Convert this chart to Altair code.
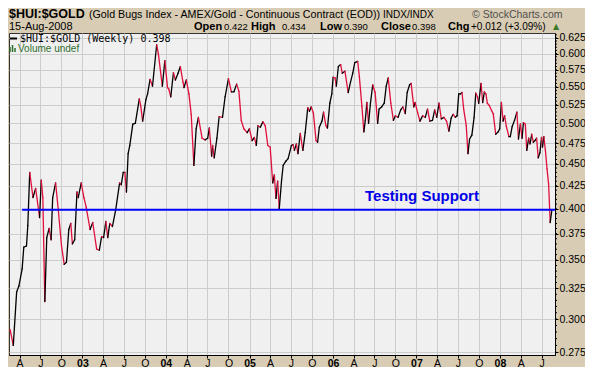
import altair as alt
import pandas as pd
import numpy as np

# ---- data (decimal year, weekly ratio) ----
t_year = [
    2002.133, 2002.172, 2002.212, 2002.239, 2002.278, 2002.298, 2002.330, 2002.346, 2002.369, 2002.408,
    2002.440, 2002.487, 2002.507, 2002.526, 2002.550, 2002.573, 2002.601, 2002.625, 2002.644, 2002.679,
    2002.711, 2002.750, 2002.782, 2002.809, 2002.837, 2002.861, 2002.880, 2002.908, 2002.935, 2002.950,
    2002.986, 2003.018, 2003.045, 2003.092, 2003.124, 2003.171, 2003.203, 2003.230, 2003.254, 2003.281,
    2003.304, 2003.328, 2003.360, 2003.399, 2003.446, 2003.466, 2003.489, 2003.509, 2003.528, 2003.548,
    2003.568, 2003.604, 2003.634, 2003.682, 2003.698, 2003.722, 2003.761, 2003.781, 2003.811, 2003.840,
    2003.890, 2003.910, 2003.958, 2003.988, 2004.020, 2004.035, 2004.059, 2004.091, 2004.114, 2004.146,
    2004.173, 2004.205, 2004.217, 2004.244, 2004.276, 2004.303, 2004.335, 2004.362, 2004.389, 2004.433,
    2004.468, 2004.500, 2004.519, 2004.547, 2004.559, 2004.578, 2004.610, 2004.637, 2004.677, 2004.708,
    2004.748, 2004.783, 2004.814, 2004.846, 2004.873, 2004.901, 2004.932, 2004.972, 2004.999, 2005.031,
    2005.058, 2005.081, 2005.101, 2005.129, 2005.160, 2005.188, 2005.219, 2005.247, 2005.278, 2005.297,
    2005.317, 2005.337, 2005.356, 2005.384, 2005.403, 2005.435, 2005.462, 2005.502, 2005.521, 2005.538,
    2005.561, 2005.580, 2005.608, 2005.639, 2005.667, 2005.698, 2005.718, 2005.738, 2005.765, 2005.797,
    2005.816, 2005.836, 2005.868, 2005.887, 2005.915, 2005.934, 2005.962, 2005.986, 2006.001, 2006.025,
    2006.040, 2006.064, 2006.092, 2006.111, 2006.143, 2006.182, 2006.210, 2006.237, 2006.261, 2006.296,
    2006.316, 2006.347, 2006.370, 2006.387, 2006.406, 2006.426, 2006.449, 2006.476, 2006.505, 2006.535,
    2006.552, 2006.583, 2006.614, 2006.638, 2006.662, 2006.693, 2006.724, 2006.748, 2006.780, 2006.811,
    2006.838, 2006.866, 2006.889, 2006.918, 2006.936, 2006.968, 2006.984, 2007.015, 2007.042, 2007.074,
    2007.106, 2007.133, 2007.160, 2007.192, 2007.219, 2007.243, 2007.271, 2007.298, 2007.330, 2007.361,
    2007.389, 2007.416, 2007.440, 2007.467, 2007.487, 2007.507, 2007.526, 2007.546, 2007.566, 2007.597,
    2007.617, 2007.637, 2007.664, 2007.691, 2007.711, 2007.731, 2007.746, 2007.774, 2007.794, 2007.814,
    2007.833, 2007.849, 2007.873, 2007.900, 2007.920, 2007.950, 2007.979, 2007.998, 2008.018, 2008.038,
    2008.057, 2008.077, 2008.108, 2008.124, 2008.147, 2008.175, 2008.203, 2008.222, 2008.245, 2008.265,
    2008.281, 2008.304, 2008.321, 2008.344, 2008.360, 2008.380, 2008.399, 2008.419, 2008.439, 2008.458,
    2008.478, 2008.498, 2008.509, 2008.525, 2008.544, 2008.563, 2008.582, 2008.601, 2008.620,
]
ratio = [
    0.292, 0.280, 0.322, 0.327, 0.342, 0.362, 0.363, 0.383, 0.440, 0.412,
    0.422, 0.391, 0.431, 0.412, 0.314, 0.371, 0.380, 0.369, 0.412, 0.428,
    0.399, 0.363, 0.346, 0.348, 0.379, 0.385, 0.365, 0.369, 0.418, 0.412,
    0.428, 0.412, 0.402, 0.379, 0.386, 0.360, 0.359, 0.372, 0.371, 0.387,
    0.371, 0.385, 0.382, 0.399, 0.428, 0.426, 0.440, 0.440, 0.418, 0.462,
    0.472, 0.499, 0.500, 0.533, 0.524, 0.503, 0.532, 0.540, 0.561, 0.551,
    0.614, 0.600, 0.551, 0.589, 0.549, 0.547, 0.536, 0.571, 0.560, 0.570,
    0.580, 0.557, 0.549, 0.560, 0.540, 0.512, 0.448, 0.493, 0.508, 0.481,
    0.479, 0.481, 0.494, 0.459, 0.472, 0.457, 0.481, 0.509, 0.508, 0.536,
    0.562, 0.543, 0.543, 0.554, 0.544, 0.504, 0.493, 0.488, 0.493, 0.478,
    0.482, 0.472, 0.497, 0.495, 0.502, 0.497, 0.472, 0.470, 0.428, 0.437,
    0.411, 0.430, 0.400, 0.431, 0.448, 0.453, 0.456, 0.472, 0.473, 0.466,
    0.474, 0.462, 0.487, 0.466, 0.488, 0.521, 0.516, 0.522, 0.514, 0.478,
    0.476, 0.495, 0.503, 0.515, 0.497, 0.494, 0.527, 0.540, 0.564, 0.563,
    0.551, 0.580, 0.583, 0.570, 0.573, 0.542, 0.557, 0.570, 0.586, 0.588,
    0.565, 0.522, 0.489, 0.504, 0.528, 0.500, 0.527, 0.553, 0.542, 0.500,
    0.519, 0.522, 0.527, 0.551, 0.563, 0.527, 0.504, 0.510, 0.508, 0.518,
    0.522, 0.513, 0.542, 0.553, 0.555, 0.522, 0.528, 0.514, 0.503, 0.510,
    0.508, 0.519, 0.503, 0.504, 0.518, 0.508, 0.527, 0.506, 0.508, 0.503,
    0.490, 0.507, 0.512, 0.508, 0.510, 0.540, 0.540, 0.542, 0.519, 0.497,
    0.462, 0.480, 0.485, 0.508, 0.541, 0.536, 0.527, 0.555, 0.528, 0.543,
    0.540, 0.527, 0.524, 0.517, 0.513, 0.486, 0.489, 0.493, 0.528, 0.503,
    0.510, 0.496, 0.483, 0.483, 0.496, 0.504, 0.515, 0.480, 0.499, 0.481,
    0.501, 0.499, 0.466, 0.481, 0.474, 0.486, 0.476, 0.478, 0.481, 0.457,
    0.463, 0.482, 0.470, 0.483, 0.466, 0.444, 0.427, 0.386, 0.398,
]

support_level = 0.399
support_span = ["2002-04-12", "2008-08-29"]
y_domain = [0.2731, 0.6331]
y_ticks = [0.275, 0.300, 0.325, 0.350, 0.375, 0.400, 0.425, 0.450, 0.475,
           0.500, 0.525, 0.550, 0.575, 0.600, 0.625]
y_minor = [round(0.275 + 0.005 * i, 3) for i in range(72)]
quarter_ticks = [(y, m) for y in range(2002, 2009) for m in (1, 4, 7, 10)
                 if (2002, 4) <= (y, m) <= (2008, 7)]

RED = "#E0103C"
TAN = "#D8CCB4"
W, H = 546, 322


def to_date(t):
    y = int(np.floor(t))
    start = pd.Timestamp(y, 1, 1)
    end = pd.Timestamp(y + 1, 1, 1)
    return (start + (end - start) * (t - y)).round("h")


dates = [to_date(t) for t in t_year]
seg = pd.DataFrame({
    "d0": dates[:-1], "d1": dates[1:],
    "v0": ratio[:-1], "v1": ratio[1:],
})
seg["dir"] = np.where(seg["v1"] >= seg["v0"], "up", "down")

xscale = alt.Scale(domain=[alt.DateTime(year=2002, month=2, date=14),
                           alt.DateTime(year=2008, month=8, date=29)])
yscale = alt.Scale(type="log", domain=y_domain, nice=False, zero=False)

x_axis = alt.Axis(
    title=None,
    values=[alt.DateTime(year=y, month=m, date=1) for y, m in quarter_ticks],
    labelExpr="month(datum.value) == 0 ? timeFormat(datum.value, '%y') : "
              "['J','F','M','A','M','J','J','A','S','O','N','D'][month(datum.value)]",
    labelFontWeight={"condition": {"test": "month(datum.value) == 0", "value": "bold"}, "value": "normal"},
    labelFlush=False, labelOverlap=False, labelBound=False,
    grid=True, gridColor="#CCCCCC", gridWidth=1,
    tickSize=3, tickColor="#000000", domainColor="#000000",
    labelPadding=0, labelFontSize=10.5, labelColor="#000000",
    labelFont="Liberation Sans",
)
y_axis = alt.Axis(
    title=None, orient="right", values=y_ticks, format=".3f",
    grid=True, gridColor="#CCCCCC", gridWidth=1,
    tickSize=3, tickColor="#000000", domainColor="#000000",
    labelPadding=1, labelFontSize=10.5, labelColor="#000000",
    labelFont="Liberation Sans", labelBaseline="middle",
)

line = alt.Chart(seg).mark_rule(strokeWidth=1.3, strokeCap="round").encode(
    x=alt.X("d0:T", scale=xscale, axis=x_axis),
    x2="d1:T",
    y=alt.Y("v0:Q", scale=yscale, axis=y_axis),
    y2="v1:Q",
    color=alt.Color("dir:N", scale=alt.Scale(domain=["up", "down"], range=["#000000", RED]), legend=None),
)

support_df = pd.DataFrame({"s0": [support_span[0]], "s1": [support_span[1]], "lvl": [support_level]})
support = alt.Chart(support_df).mark_rule(color="#0000FF", strokeWidth=2).encode(
    x=alt.X("s0:T", scale=xscale, axis=x_axis),
    x2="s1:T",
    y=alt.Y("lvl:Q", scale=yscale, axis=y_axis),
)

minor = alt.Chart(pd.DataFrame({"m": y_minor})).mark_rule(color="#000000", strokeWidth=1).encode(
    y=alt.Y("m:Q", scale=yscale, axis=y_axis),
    x=alt.value(W), x2=alt.value(W + 2),
)


def label(text, x, y, size=11, weight="normal", color="#000000", font="Liberation Sans", align="left"):
    return alt.Chart(pd.DataFrame({"t": [text]})).mark_text(
        align=align, baseline="alphabetic", fontSize=size, fontWeight=weight,
        color=color, font=font,
    ).encode(text="t:N", x=alt.value(x), y=alt.value(y))


# positions in plot coordinates (plot origin is at page x=9, y=33)
R1, R2 = -15.5, -3
texts = [
    label("$HUI:$GOLD", 0, R1, size=12.5, weight="bold"),
    label("(Gold Bugs Index - AMEX/Gold - Continuous Contract (EOD))", 80, R1, size=10.7),
    label("INDX/INDX", 374, R1, size=10),
    label("\u00a9 StockCharts.com", 463, R1, size=10.5, color="#505050"),
    label("15-Aug-2008", 0, R2, size=11),
    label("Open", 185, R2, size=11, weight="bold"),
    label("0.422", 215, R2, size=9.5),
    label("High", 242, R2, size=11, weight="bold"),
    label("0.434", 273, R2, size=9.5),
    label("Low", 311, R2, size=11, weight="bold"),
    label("0.390", 335, R2, size=9.5),
    label("Close", 372, R2, size=11, weight="bold"),
    label("0.398", 403, R2, size=9.5),
    label("Chg", 439, R2, size=11, weight="bold"),
    label("+0.012 (+3.09%)", 462, R2, size=10),
    label("\u25b2", 544, R2 - 1, size=8, color="#3A7A2A", font="DejaVu Sans"),
    label("$HUI:$GOLD (Weekly) 0.398", 11, 9, size=10, font="DejaVu Sans Mono"),
    label("Volume undef", 9, 19, size=10, color="#2E6E2E"),
    label("Testing Support", 356, 168, size=15, weight="bold", color="#0000E6"),
]

dash = alt.Chart(pd.DataFrame({"k": [0]})).mark_rule(color="#000000", strokeWidth=2).encode(
    x=alt.value(1), x2=alt.value(8), y=alt.value(5.5)
)
vol_bars = [
    alt.Chart(pd.DataFrame({"k": [0]})).mark_rule(color="#2E6E2E", strokeWidth=1.5).encode(
        x=alt.value(bx), y=alt.value(by), y2=alt.value(19)
    )
    for bx, by in [(1, 14), (3.5, 12), (6, 15)]
]

chart = alt.layer(line, support, minor, dash, *vol_bars, *texts).properties(
    width=W, height=H,
    padding={"left": 1, "top": 25, "right": 30, "bottom": 12},
    autosize=alt.AutoSizeParams(type="none"),
    background=TAN,
).configure_view(fill="#F0F0F0", stroke="#333333", strokeWidth=1)

chart.save("out.html", embed_options={"renderer": "svg", "actions": False})
